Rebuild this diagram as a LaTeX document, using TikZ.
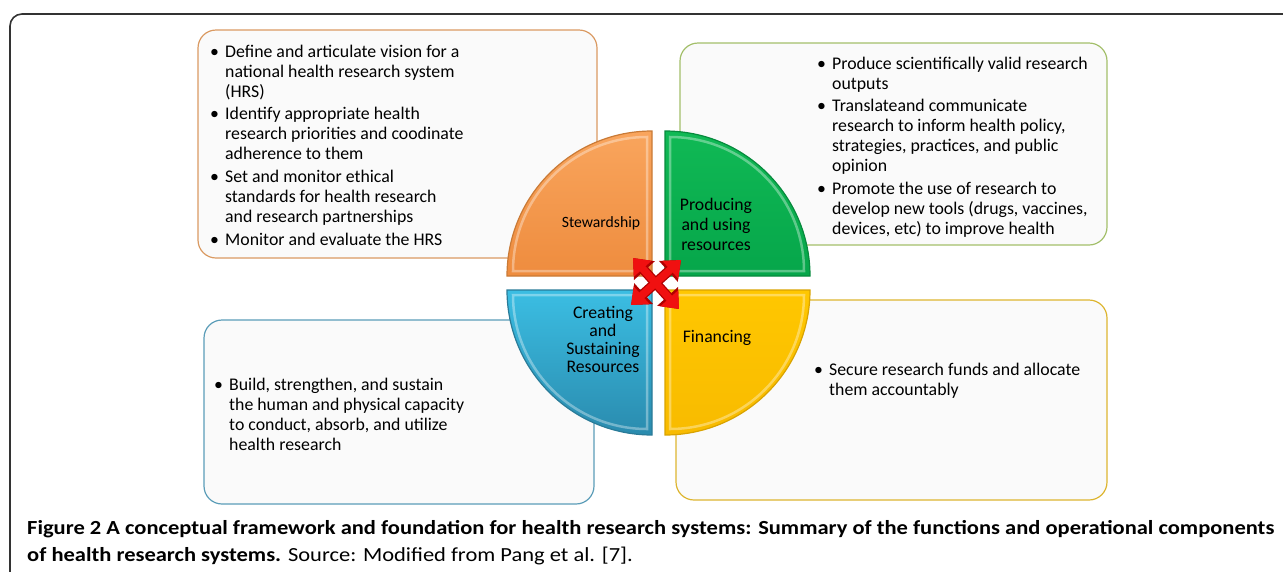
\documentclass[tikz,border=0pt]{standalone}
\usepackage{fontspec}
\setmainfont{Carlito}
\newfontfamily\capfont[FakeStretch=1.125]{Carlito}
\usetikzlibrary{arrows.meta}
\definecolor{stewline}{HTML}{DA9A62}
\definecolor{prodline}{HTML}{A3BF6A}
\definecolor{crealine}{HTML}{5B9DB8}
\definecolor{finline}{HTML}{DDB530}
\definecolor{stewtop}{HTML}{F9A55D}
\definecolor{stewbot}{HTML}{EE8C3E}
\definecolor{stewdark}{HTML}{C97A36}
\definecolor{prodtop}{HTML}{10B955}
\definecolor{prodbot}{HTML}{06A64A}
\definecolor{proddark}{HTML}{078A3D}
\definecolor{creatop}{HTML}{3BBEE3}
\definecolor{creabot}{HTML}{2A8BAE}
\definecolor{creadark}{HTML}{2A7B98}
\definecolor{fintop}{HTML}{FFC700}
\definecolor{finbot}{HTML}{F8BB00}
\definecolor{findark}{HTML}{D9A300}
\definecolor{crossred}{HTML}{F01010}
\definecolor{crossdark}{HTML}{B00000}
\tikzset{
 listbox/.style={rounded corners=18pt, line width=1.2pt, fill=black!2},
 listtext/.style={anchor=north west, inner sep=0pt, font=\fontsize{17.8}{20}\selectfont},
 quad/.style={line width=1.2pt},
 bevel/.style={draw=white, draw opacity=0.35, line width=2.5pt},
 quadlabel/.style={align=center, inner sep=0pt, font=\fontsize{17.7}{20}\selectfont},
 crossback/.style={draw=crossdark, line width=10pt,
   {Triangle[width=27pt,length=17pt]}-{Triangle[width=27pt,length=17pt]}},
 crossfront/.style={draw=crossred, line width=7.5pt,
   {Triangle[width=23pt,length=14.5pt]}-{Triangle[width=23pt,length=14.5pt]}},
 caption/.style={anchor=base west, inner sep=0pt, font=\capfont\fontsize{20}{27}\selectfont},
}
\newcommand{\bitem}[1]{\makebox[15pt][l]{\textbullet}&\begin{tabular}[t]{@{}l@{}}#1\end{tabular}}
\newcommand{\itemgap}{\\ \noalign{\vskip2.7pt}}

\begin{document}
\begin{tikzpicture}[x=1pt, y=-1pt]
        \useasboundingbox (0,0) rectangle (1283,571);
        \clip (0,0) rectangle (1283,571);
        \draw[line width=1.6pt, black!80, rounded corners=12pt] (10,14) rectangle (1300,600);

        \draw[listbox, draw=stewline] (198,30) rectangle (597,258);
        \draw[listbox, draw=prodline] (680,43) rectangle (1107,245);
        \draw[listbox, draw=crealine] (204,320) rectangle (594,504);
        \draw[listbox, draw=finline] (676,300) rectangle (1107,500);

        \node[listtext] (stewlist) at (210,43) {\begin{tabular}{@{}l@{}l@{}}
            \bitem{Define and articulate vision for a\\national health research system\\(HRS)}\itemgap
            \bitem{Identify appropriate health\\research priorities and coodinate\\adherence to them}\itemgap
            \bitem{Set and monitor ethical\\standards for health research\\and research partnerships}\itemgap
            \bitem{Monitor and evaluate the HRS}
        \end{tabular}};
        \node[listtext] (prodlist) at (817,55) {\begin{tabular}{@{}l@{}l@{}}
            \bitem{Produce scientifically valid research\\outputs}\itemgap
            \bitem{Translateand communicate\\research to inform health policy,\\strategies, practices, and public\\opinion}\itemgap
            \bitem{Promote the use of research to\\develop new tools (drugs, vaccines,\\devices, etc) to improve health}
        \end{tabular}};
        \node[listtext] (crealist) at (214,376) {\begin{tabular}{@{}l@{}l@{}}
            \bitem{Build, strengthen, and sustain\\the human and physical capacity\\to conduct, absorb, and utilize\\health research}
        \end{tabular}};
        \node[listtext] (finlist) at (814,361) {\begin{tabular}{@{}l@{}l@{}}
            \bitem{Secure research funds and allocate\\them accountably}
        \end{tabular}};

        \draw[quad, draw=stewdark, top color=stewtop, bottom color=stewbot]
            (652,276) -- +(180:145) arc[start angle=180, end angle=270, radius=145] -- cycle;
        \draw[quad, draw=proddark, top color=prodtop, bottom color=prodbot]
            (665,276) -- +(270:145) arc[start angle=270, end angle=360, radius=145] -- cycle;
        \draw[quad, draw=findark, top color=fintop, bottom color=finbot]
            (665,290) -- +(0:145) arc[start angle=0, end angle=90, radius=145] -- cycle;
        \draw[quad, draw=creadark, top color=creatop, bottom color=creabot]
            (652,290) -- +(90:145) arc[start angle=90, end angle=180, radius=145] -- cycle;
        \draw[bevel] (647,271) -- +(180:134) arc[start angle=180, end angle=270, radius=134] -- cycle;
        \draw[bevel] (670,271) -- +(270:134) arc[start angle=270, end angle=360, radius=134] -- cycle;
        \draw[bevel] (670,295) -- +(0:134) arc[start angle=0, end angle=90, radius=134] -- cycle;
        \draw[bevel] (647,295) -- +(90:134) arc[start angle=90, end angle=180, radius=134] -- cycle;

        \node[quadlabel, font=\fontsize{15.7}{18}\selectfont] (stew) at (601,223) {Stewardship};
        \node[quadlabel] (prod) at (716,224) {Producing\\and using\\resources};
        \node[quadlabel, font=\fontsize{17.7}{18}\selectfont] (crea) at (603,339) {Creating\\and\\Sustaining\\Resources};
        \node[quadlabel] (fin) at (717,338) {Financing};

        \coordinate (ul) at (633,258);
        \coordinate (lr) at (679,309);
        \coordinate (ur) at (681,260);
        \coordinate (ll) at (631,305);
        \draw[crossback] (ul) -- (lr);
        \draw[crossback] (ur) -- (ll);
        \draw[crossfront] (ul) -- (lr);
        \draw[crossfront] (ur) -- (ll);

        \node[caption] (cap1) at (27,534) {\textbf{Figure 2 A conceptual framework and foundation for health research systems: Summary of the functions and operational components}};
        \node[caption] (cap2) at (27,561) {\textbf{of health research systems.} Source: Modified from Pang et al. [7].};
\end{tikzpicture}
\end{document}
